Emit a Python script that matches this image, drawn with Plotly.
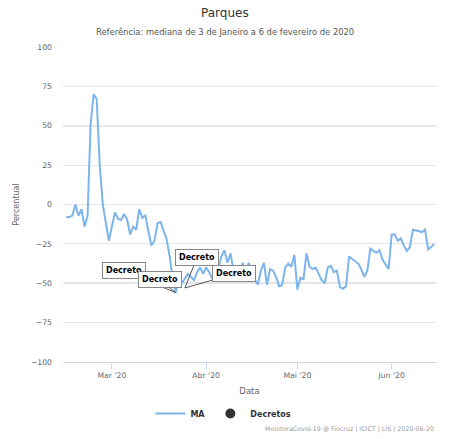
import pandas as pd
import plotly.graph_objects as go

# ---- data ----
start_date = "2020-02-15"
ma_values = [
    # Feb 15-29
    -8, -8, -7, 0, -7, -3, -14, -7, 51, 70, 67, 25, 0, -12, -23,
    # Mar
    -14, -5, -9, -10, -6, -9.5, -19, -14, -16, -3, -8.5, -7, -17, -26, -23,
    -12, -11, -16, -22, -33, -47, -56, -46, -50, -47, -44, -46, -48, -43, -40, -44,
    # Apr
    -40, -43, -47, -44, -40, -33, -29, -37, -31, -42, -46, -44, -37, -44, -37,
    -44, -48, -51, -42, -37, -51, -41, -42, -46, -52, -51, -40, -37.5, -39.5, -32,
    # May
    -54, -46.5, -47.5, -31, -39.5, -41, -40, -44, -48, -50, -40, -39, -43, -42, -52.5,
    -53.5, -52, -33, -34.5, -35.5, -37.5, -41, -46, -42, -28, -29.5, -30.6, -29, -35, -38, -41,
    # Jun 1-15
    -19, -19, -23, -21.5, -26, -29.5, -27, -16, -16.5, -17, -17.5, -16, -28.5, -27, -25,
]
dates = pd.date_range(start_date, periods=len(ma_values), freq="D")

decree_dates = ["2020-03-22", "2020-03-22", "2020-03-25", "2020-03-25"]
decree_values = [-56, -56, -53, -53]
decree_labels = ["Decreto", "Decreto", "Decreto", "Decreto"]

tick_dates = ["2020-03-01", "2020-04-01", "2020-05-01", "2020-06-01"]
tick_labels = ["Mar '20", "Abr '20", "Mai '20", "Jun '20"]
y_ticks = [-100, -75, -50, -25, 0, 25, 50, 75, 100]

FONT = "DejaVu Sans"

fig = go.Figure()
fig.add_trace(go.Scatter(
    x=dates, y=ma_values, mode="lines", name="MA",
    line=dict(color="#7cb5ec", width=2), hoverinfo="x+y",
))
fig.add_trace(go.Scatter(
    x=decree_dates, y=decree_values, mode="markers", name="Decretos",
    marker=dict(size=1, color="rgba(0,0,0,0)"), showlegend=False,
))
fig.add_trace(go.Scatter(
    x=[None], y=[None], mode="markers", name="Decretos",
    marker=dict(size=10, color="#333333"),
))

# darker reference lines
for yv, col in [(75, "#a8a8a8"), (50, "#a8a8a8"), (0, "#8c8c8c"), (-50, "#8c8c8c")]:
    fig.add_shape(type="line", xref="paper", x0=0, x1=1, yref="y", y0=yv, y1=yv,
                  line=dict(color=col, width=1), layer="below")

# decree callouts
offsets = [(-52, -22), (-16, -13), (12, -30), (49, -14)]
for d, v, lab, (ax, ay) in zip(decree_dates, decree_values, decree_labels, offsets):
    fig.add_annotation(
        x=d, y=v, xref="x", yref="y", text="<b>" + lab + "</b>",
        showarrow=True, arrowhead=0, arrowwidth=1, arrowcolor="#555555",
        ax=ax, ay=ay, bgcolor="white", bordercolor="#888888", borderwidth=1,
        borderpad=3, font=dict(family=FONT, size=8, color="#000000"),
    )

# title and subtitle
fig.add_annotation(text="Parques", xref="paper", yref="paper", x=0.433, y=1.109,
                   xanchor="center", yanchor="middle", showarrow=False,
                   font=dict(family=FONT, size=12, color="#333333"))
fig.add_annotation(text="Referência: mediana de 3 de Janeiro a 6 de fevereiro de 2020",
                   xref="paper", yref="paper", x=0.433, y=1.049,
                   xanchor="center", yanchor="middle", showarrow=False,
                   font=dict(family=FONT, size=8.4, color="#555555"))
# credits
fig.add_annotation(text="MonitoraCovid-19 @ Fiocruz | ICICT | LIS | 2020-06-20",
                   xref="paper", yref="paper", x=1.0, y=-0.213,
                   xanchor="right", yanchor="middle", showarrow=False,
                   font=dict(family=FONT, size=6.3, color="#999999"))

fig.update_layout(
    width=449, height=439,
    margin=dict(l=63, r=13, t=47, b=76),
    paper_bgcolor="white", plot_bgcolor="white",
    font=dict(family=FONT, size=8, color="#666666"),
    showlegend=True,
    legend=dict(orientation="h", x=0.43, xanchor="center", y=-0.16, yanchor="middle",
                font=dict(family=FONT, size=8, color="#333333", weight="bold"),
                itemwidth=30, tracegroupgap=0),
    xaxis=dict(
        range=["2020-02-13 22:00", "2020-06-15 14:00"],
        tickvals=tick_dates, ticktext=tick_labels,
        showgrid=False, zeroline=False,
        showline=True, linecolor="#ccd6eb", linewidth=1,
        ticks="outside", ticklen=6, tickcolor="#ccd6eb",
        tickfont=dict(family=FONT, size=7.7, color="#666666"),
        title=dict(text="Data", font=dict(family=FONT, size=8.5, color="#666666"), standoff=8),
    ),
    yaxis=dict(
        range=[-100, 100], tickvals=y_ticks,
        showgrid=True, gridcolor="#e6e6e6", gridwidth=1, zeroline=False,
        showline=False, ticks="", ticklabelstandoff=10,
        tickfont=dict(family=FONT, size=7.7, color="#666666"),
        title=dict(text="Percentual", font=dict(family=FONT, size=8, color="#666666"), standoff=10),
    ),
)

fig.write_html("out.html", config={"displayModeBar": False},
               post_script="document.body.style.margin='0px';")
